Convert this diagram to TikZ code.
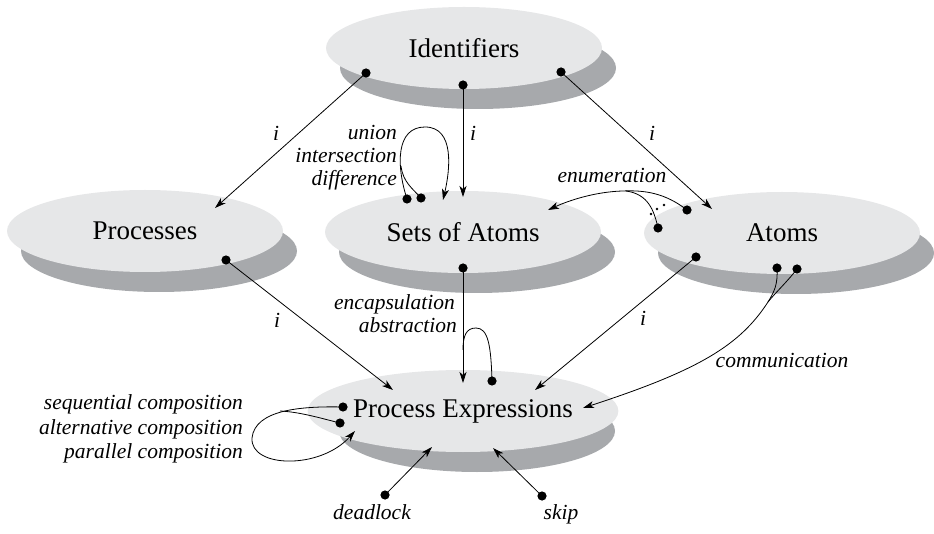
\documentclass[tikz,border=0pt]{standalone}
\usepackage{fontspec}
\setmainfont{Liberation Serif}
\usetikzlibrary{shapes.geometric,arrows.meta}
\definecolor{blobfill}{HTML}{E6E7E8}
\definecolor{blobshade}{HTML}{A7A9AC}
\tikzset{
  blob/.style={ellipse, fill=blobfill, minimum width=276pt, minimum height=82pt,
    inner sep=0pt, font=\fontsize{27}{30}\selectfont},
  shade/.style={blobshade},
  conn/.style={line width=0.8pt, -{Stealth[length=11pt,width=7pt,inset=3pt]}},
  wire/.style={line width=0.8pt},
  lbl/.style={font=\fontsize{21.5}{25}\selectfont\itshape, inner sep=0pt},
  lblr/.style={lbl, anchor=mid east},
  pin/.style={fill=black},
}
\newcommand\dotat[1]{\fill[pin] (#1) circle (4.6pt);}
\begin{document}
\begin{tikzpicture}[x=1pt,y=-1pt]
\useasboundingbox (0,0) rectangle (934,534);

% drop shadows, offset down and right
\fill[shade] (478,68)  ellipse [x radius=138pt, y radius=41pt];
\fill[shade] (159,251) ellipse [x radius=138pt, y radius=41pt];
\fill[shade] (477,252) ellipse [x radius=138pt, y radius=41pt];
\fill[shade] (796,253) ellipse [x radius=138pt, y radius=41pt];
\fill[shade] (477,431) ellipse [x radius=138pt, y radius=41pt];

% the five sorts
\node[blob] (ids)  at (464,48)  {Identifiers};
\node[blob] (proc) at (145,231) {Processes};
\node[blob] (sets) at (463,232) {Sets of Atoms};
\node[blob] (atm)  at (782,233) {Atoms};
\node[blob] (pex)  at (463,411) {Process Expressions};

% connector end points
\coordinate (idL) at (366,73);
\coordinate (idC) at (463,85);
\coordinate (idR) at (561,72);
\coordinate (prT) at (215,208);
\coordinate (saT) at (463,197);
\coordinate (atT) at (712,209);

\coordinate (so1) at (407,199);
\coordinate (so2) at (421,198);
\coordinate (soT) at (443,200);

\coordinate (en1) at (687,210);
\coordinate (en2) at (658,228);
\coordinate (enT) at (548,210);

\coordinate (prD) at (226,260);
\coordinate (saD) at (463,268);
\coordinate (atD) at (696,257);
\coordinate (sl)  at (492,381);
\coordinate (cm1) at (777,268);
\coordinate (cm2) at (797,269);
\coordinate (cmJ) at (768,302);

\coordinate (pT1) at (393,390);
\coordinate (pT2) at (463,383);
\coordinate (pT3) at (535,390);
\coordinate (pT4) at (583,408);
\coordinate (pT5) at (355,431);
\coordinate (pT6) at (432,447);
\coordinate (pT7) at (493,448);

\coordinate (cp1) at (343,407);
\coordinate (cp2) at (340,423);
\coordinate (dlD) at (385,495);
\coordinate (skD) at (542,496);

% Identifiers to the three sorts
\draw[conn] (idL) -- (prT);
\draw[conn] (idC) -- (saT);
\draw[conn] (idR) -- (atT);

% union, intersection, difference on sets
\draw[conn] (so1) .. controls (396,165) and (396,127) .. (425,127)
                  .. controls (455,127) and (450,170) .. (soT);
\draw[wire] (so2) .. controls (412,188) and (403,182) .. (401,166);

% enumeration of atoms
\draw[conn] (en1) .. controls (665,193) and (645,190) .. (622,191)
                  .. controls (595,192) and (570,200) .. (enT);
\draw[wire] (en2) .. controls (654,210) and (648,194) .. (626,191);
\foreach \p in {(651,214),(657,209),(664,205)} {\fill \p circle (1.3pt);}

% into process expressions
\draw[conn] (prD) -- (pT1);
\draw[conn] (saD) -- (pT2);
\draw[wire] (sl) .. controls (491,345) and (488,328) .. (476,328)
                 .. controls (466,328) and (463,336) .. (463,350);
\draw[conn] (atD) -- (pT3);
\draw[wire] (cm2) .. controls (787,282) and (776,292) .. (cmJ);
\draw[conn] (cm1) .. controls (778,285) and (774,292) .. (cmJ)
                  .. controls (740,345) and (700,370) .. (pT4);

% composition operators
\draw[conn] (cp1) .. controls (300,406) and (255,410) .. (252,438)
                  .. controls (250,468) and (320,470) .. (pT5);
\draw[wire] (cp2) .. controls (320,418) and (300,412) .. (280,411);

% constants
\draw[conn] (dlD) -- (pT6);
\draw[conn] (skD) -- (pT7);

% pins
\foreach \c in {idL,idC,idR,so1,so2,en1,en2,prD,saD,atD,sl,cm1,cm2,cp1,cp2,dlD,skD}
  {\dotat{\c}}

% labels
\node[lbl] (i1) at (276,133) {i};
\node[lbl] (i2) at (473,133) {i};
\node[lbl] (i3) at (652,133) {i};
\node[lbl] (i4) at (277,320) {i};
\node[lbl] (i5) at (643,318) {i};
\node[lblr] (un) at (397,137) {union};
\node[lblr] (in) at (397,160) {intersection};
\node[lblr] (df) at (397,183) {difference};
\node[lbl, anchor=mid] (en) at (612,180) {enumeration};
\node[lblr] (ec) at (455,307) {encapsulation};
\node[lblr] (ab) at (457,330) {abstraction};
\node[lbl, anchor=mid] (cm) at (782,365) {communication};
\node[lblr] (sq) at (243,407) {sequential composition};
\node[lblr] (al) at (243,432) {alternative composition};
\node[lblr] (pa) at (243,456) {parallel composition};
\node[lbl, anchor=mid] (dl) at (372,517) {deadlock};
\node[lbl, anchor=mid] (sk) at (561,517) {skip};
\end{tikzpicture}
\end{document}
